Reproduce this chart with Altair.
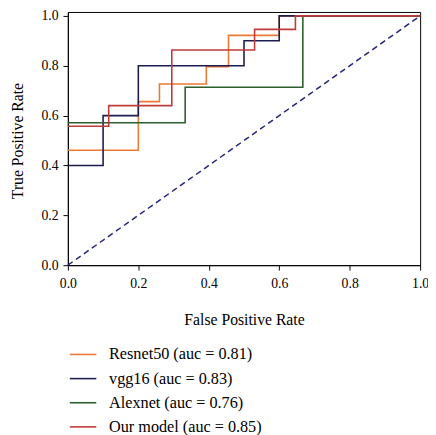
import altair as alt
import pandas as pd

# ---- data ----
models = ["Resnet50 (auc = 0.81)", "vgg16 (auc = 0.83)",
          "Alexnet (auc = 0.76)", "Our model (auc = 0.85)"]
colors = ["#EB7A36", "#1C1C50", "#2B5F2B", "#C03A3A"]

resnet_fpr = [0.0, 0.20, 0.20, 0.26, 0.26, 0.393, 0.393, 0.456, 0.456, 0.60, 0.60, 1.0]
resnet_tpr = [0.461, 0.461, 0.656, 0.656, 0.727, 0.727, 0.796, 0.796, 0.922, 0.922, 1.0, 1.0]

vgg_fpr = [0.0, 0.1, 0.1, 0.2, 0.2, 0.5, 0.5, 0.6, 0.6, 1.0]
vgg_tpr = [0.4, 0.4, 0.6, 0.6, 0.8, 0.8, 0.9, 0.9, 1.0, 1.0]

alex_fpr = [0.0, 0.333, 0.333, 0.667, 0.667, 1.0]
alex_tpr = [0.571, 0.571, 0.714, 0.714, 1.0, 1.0]

ours_fpr = [0.0, 0.116, 0.116, 0.295, 0.295, 0.530, 0.530, 0.646, 0.646, 1.0]
ours_tpr = [0.557, 0.557, 0.640, 0.640, 0.863, 0.863, 0.946, 0.946, 1.0, 1.0]

chance_fpr = [0.0, 1.0]
chance_tpr = [0.0, 1.0]

tick_values = [0.0, 0.2, 0.4, 0.6, 0.8, 1.0]

# ---- tables ----
rows = []
for name, fx, ty in zip(models,
                        [resnet_fpr, vgg_fpr, alex_fpr, ours_fpr],
                        [resnet_tpr, vgg_tpr, alex_tpr, ours_tpr]):
    for i, (a, b) in enumerate(zip(fx, ty)):
        rows.append({"model": name, "fpr": a, "tpr": b, "i": i})
df = pd.DataFrame(rows)
diag_df = pd.DataFrame({"fpr": chance_fpr, "tpr": chance_tpr})

FONT = "Liberation Serif"

x_enc = alt.X("fpr:Q",
              scale=alt.Scale(domain=[0, 1], nice=False, zero=False),
              axis=alt.Axis(title="False Positive Rate", values=tick_values, format=".1f",
                            labelFlush=False, labelPadding=7, titleX=179.5, titleY=60,
                            titleBaseline="alphabetic"))
y_enc = alt.Y("tpr:Q",
              scale=alt.Scale(domain=[0, 1.0157], nice=False, zero=False),
              axis=alt.Axis(title="True Positive Rate", values=tick_values, format=".1f",
                            labelFlush=False, labelPadding=5, titleX=-46.5, titleY=131,
                            titleAngle=270, titleBaseline="alphabetic"))

diag = alt.Chart(diag_df).mark_line(
    color="#23237A", strokeDash=[6, 4], strokeWidth=1.5
).encode(x=x_enc, y=y_enc)

lines = alt.Chart(df).mark_line(strokeWidth=1.6).encode(
    x=alt.X("fpr:Q"),
    y=alt.Y("tpr:Q"),
    order=alt.Order("i:Q"),
    color=alt.Color("model:N",
                    scale=alt.Scale(domain=models, range=colors),
                    sort=models,
                    legend=alt.Legend(orient="none", legendX=1, legendY=334.5, title=None,
                                      symbolType="stroke", symbolSize=729,
                                      symbolStrokeWidth=1.6, labelFont=FONT,
                                      labelFontSize=16.5, labelColor="black",
                                      labelOffset=12, rowPadding=1.6, padding=0,
                                      labelLimit=400)),
)

chart = alt.layer(diag, lines).properties(
    width=359, height=258,
    padding={"left": 61, "top": 0, "right": 8, "bottom": 169},
    autosize=alt.AutoSizeParams(type="none"),
).configure_view(
    stroke="black", strokeWidth=1
).configure_axis(
    grid=False, domainColor="black", domainWidth=1, tickColor="black", tickSize=5,
    tickWidth=1, labelFont=FONT, labelFontSize=14, labelColor="black",
    titleFont=FONT, titleFontSize=16, titleFontWeight="normal", titleColor="black",
)

chart.save("out.html", embed_options={"renderer": "svg", "actions": False})
